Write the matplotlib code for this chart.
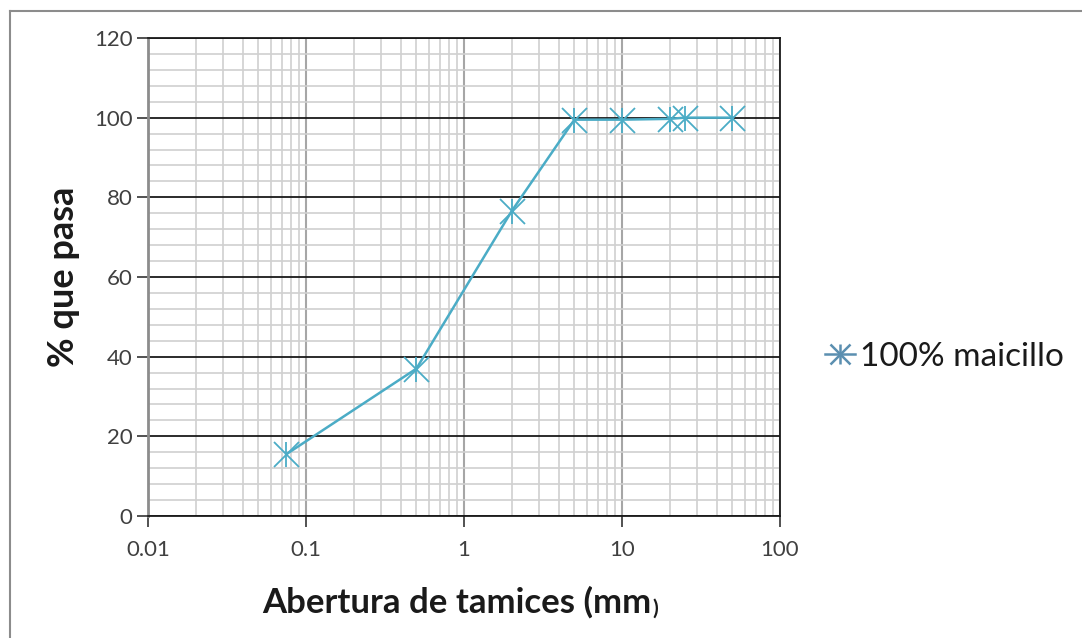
import numpy as np
import matplotlib
matplotlib.use("Agg")
import matplotlib.pyplot as plt
from matplotlib.ticker import LogLocator, MultipleLocator, NullFormatter
from matplotlib.lines import Line2D

plt.rcParams['font.family'] = ['Lato', 'DejaVu Sans']

# datos de la curva granulometrica
abertura = [0.075, 0.5, 2, 5, 10, 20, 25, 50]
pasa = [15.5, 37, 76.5, 99.5, 99.5, 99.7, 100, 100]
serie = "100% maicillo"
xticks = [0.01, 0.1, 1, 10, 100]
xticklabels = ["0.01", "0.1", "1", "10", "100"]

color = "#4bacc6"

fig = plt.figure(figsize=(10.82, 6.38), dpi=100)
ax = fig.add_axes([148/1082, 1-516/638, (780-148)/1082, (516-38)/638])

ax.set_xscale("log")
ax.set_xlim(0.01, 100)
ax.set_ylim(0, 120)

# rejilla
ax.xaxis.set_minor_locator(LogLocator(base=10, subs=np.arange(2, 10), numticks=20))
ax.yaxis.set_major_locator(MultipleLocator(20))
ax.yaxis.set_minor_locator(MultipleLocator(4))
ax.set_xticks(xticks)
ax.set_xticklabels(xticklabels)
ax.xaxis.set_minor_formatter(NullFormatter())

ax.grid(which="minor", axis="both", color="#d0d0d0", lw=1.2, zorder=0)
ax.grid(which="major", axis="x", color="#a6a6a6", lw=1.5, zorder=0.5)
ax.grid(which="major", axis="y", color="#1a1a1a", lw=1.3, zorder=0.6)
ax.set_axisbelow(True)

ax.tick_params(which="minor", length=0)
ax.tick_params(which="major", direction="out", length=8, width=1.2, color="#333333",
               labelsize=16, labelcolor="#404040")
ax.tick_params(axis="x", pad=9)
ax.tick_params(axis="y", pad=3)
ax.spines["left"].set_color("#8c8c8c")
ax.spines["left"].set_linewidth(2)
for s in ["bottom", "right", "top"]:
    ax.spines[s].set_color("#1a1a1a")
    ax.spines[s].set_linewidth(1.3)

ax.plot(abertura, pasa, color=color, lw=1.8, marker="x", ms=18, mew=1.3, zorder=3)
ax.plot(abertura, pasa, ls="none", color=color, marker="|", ms=18, mew=1.3, zorder=3)

# leyenda
h1 = Line2D([], [], color="#5b8fb0", lw=1.8, marker="x", ms=15, mew=1.8)
h2 = Line2D([], [], color="#5b8fb0", ls="none", marker="|", ms=15, mew=1.8)
fig.legend([(h1, h2)], [serie], loc="center left", bbox_to_anchor=(795/1082, 1-357/638),
           frameon=False, fontsize=24, handlelength=0.9, handletextpad=0.15,
           labelcolor="#1a1a1a")

# etiquetas de ejes
fig.text(63/1082, 1-277/638, "% que pasa", rotation=90, ha="center", va="center",
         fontsize=26, fontweight="bold", color="#1a1a1a")
t = fig.text(262/1082, 1-602/638, "Abertura de tamices (mm", ha="left", va="center",
             fontsize=25, fontweight="bold", color="#1a1a1a")
fig.canvas.draw()
bb = t.get_window_extent()
fig.text(bb.x1/1082 + 1/1082, 1-609/638, ")", ha="left", va="center",
         fontsize=15, fontweight="bold", color="#1a1a1a")

# borde del grafico
fig.add_artist(Line2D([9.5/1082, 9.5/1082], [0, 1-11/638], transform=fig.transFigure,
                      color="#8c8c8c", lw=1.5))
fig.add_artist(Line2D([9.5/1082, 1], [1-11/638, 1-11/638], transform=fig.transFigure,
                      color="#8c8c8c", lw=1.5))

fig.savefig("out.png", dpi=100)
